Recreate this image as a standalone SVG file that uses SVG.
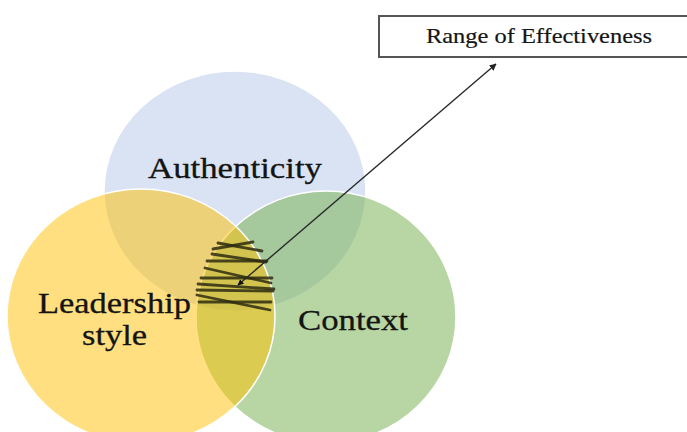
<svg xmlns="http://www.w3.org/2000/svg" width="687" height="432" viewBox="0 0 687 432">
  <style>
    .set { stroke: #ffffff; stroke-width: 1.5; }
    .label { font-family: "Liberation Serif", "Times New Roman", serif; fill: #141414; }
    .big { font-size: 30px; stroke: #141414; stroke-width: 0.3; }
    .small { font-size: 21px; stroke: #222222; stroke-width: 0.2; }
    .hatch line { stroke: #2e2c10; stroke-width: 2.8; stroke-linecap: round; opacity: 0.85; }
  </style>
  <defs>
    <marker id="head" viewBox="0 0 10 10" refX="9" refY="5" markerWidth="7" markerHeight="7" orient="auto-start-reverse" markerUnits="userSpaceOnUse">
      <path d="M0,0 L10,5 L0,10 Z" fill="#222"/>
    </marker>
    <marker id="tail" viewBox="0 0 10 10" refX="9" refY="5" markerWidth="6" markerHeight="6" orient="auto-start-reverse" markerUnits="userSpaceOnUse">
      <path d="M0,0 L10,5 L0,10 Z" fill="#111"/>
    </marker>
  </defs>

  <rect width="687" height="432" fill="#ffffff"/>

  <!-- Authenticity set -->
  <g id="authenticity">
    <ellipse class="set" cx="235" cy="191" rx="131" ry="120" fill="#dae3f3"/>
    <text class="label big" x="148" y="178" textLength="174" lengthAdjust="spacingAndGlyphs">Authenticity</text>
  </g>

  <!-- Context set -->
  <g id="context">
    <ellipse class="set" cx="326" cy="317" rx="130" ry="126" fill="#70ad47" fill-opacity="0.5"/>
  </g>

  <!-- Leadership style set -->
  <g id="leadership-style">
    <ellipse class="set" cx="141" cy="316" rx="134" ry="127" fill="#ffc000" fill-opacity="0.5"/>
  </g>

  <!-- labels sit above every fill -->
  <g id="labels">
    <text class="label big" x="38" y="313" textLength="153" lengthAdjust="spacingAndGlyphs">Leadership</text>
    <text class="label big" x="82" y="345" textLength="65" lengthAdjust="spacingAndGlyphs">style</text>
    <text class="label big" x="298" y="330" textLength="110" lengthAdjust="spacingAndGlyphs">Context</text>
  </g>

  <!-- hatched zone where all three sets meet -->
  <g id="overlap-hatch" class="hatch">
    <line x1="218" y1="243" x2="262" y2="251"/>
    <line x1="213" y1="249" x2="253" y2="242"/>
    <line x1="212" y1="254" x2="266" y2="262"/>
    <line x1="207" y1="261" x2="267" y2="261"/>
    <line x1="205" y1="268" x2="271" y2="283"/>
    <line x1="201" y1="278" x2="272" y2="278"/>
    <line x1="198" y1="284" x2="274" y2="289"/>
    <line x1="197" y1="290" x2="273" y2="291"/>
    <line x1="197" y1="295" x2="270" y2="310"/>
    <line x1="199" y1="302" x2="271" y2="302"/>
  </g>

  <!-- callout box -->
  <g id="range-box">
    <rect x="379" y="16" width="320" height="41" fill="#ffffff" stroke="#555555" stroke-width="2"/>
    <text class="label small" x="426" y="43" textLength="226" lengthAdjust="spacingAndGlyphs">Range of Effectiveness</text>
  </g>

  <!-- connector from the hatched zone to the callout -->
  <g id="connectors">
    <line x1="238" y1="285" x2="496" y2="64" stroke="#2a2a2a" stroke-width="1.4" marker-start="url(#tail)" marker-end="url(#head)"/>
  </g>
</svg>
